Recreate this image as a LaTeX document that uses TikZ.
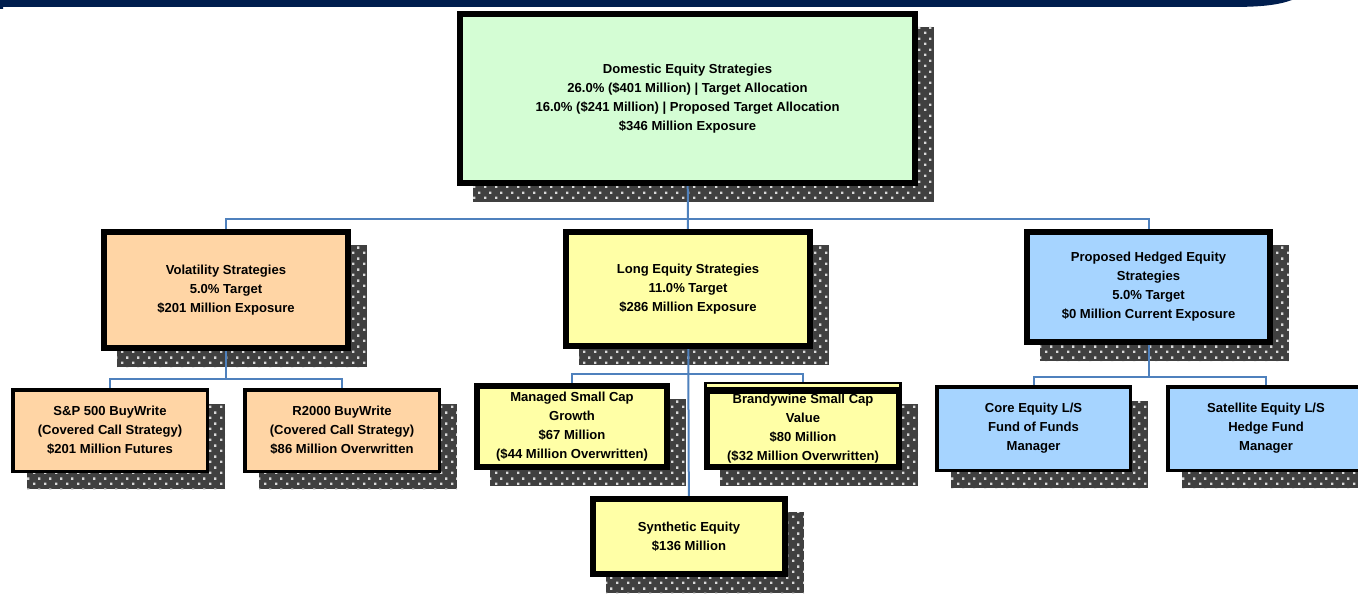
\documentclass[tikz,border=0pt]{standalone}
\usepackage{fontspec}
\setmainfont{Liberation Sans}
\usetikzlibrary{patterns.meta}
\definecolor{navy}{HTML}{001E4E}
\definecolor{gfill}{HTML}{D4FDD4}
\definecolor{ofill}{HTML}{FFD5A5}
\definecolor{yfill}{HTML}{FFFFA6}
\definecolor{bfill}{HTML}{A6D4FF}
\definecolor{connblue}{HTML}{4F81BD}
\definecolor{shgray}{HTML}{404040}
\definecolor{dotgray}{HTML}{D9D9D9}
\tikzdeclarepattern{
  name=shdots,
  type=colored,
  bottom left={(0pt,0pt)},
  top right={(8.25pt,8.25pt)},
  tile size={(8.25pt,8.25pt)},
  code={\fill[dotgray] (0pt,0pt) rectangle (2pt,2pt);
        \fill[dotgray] (4.1pt,4.1pt) rectangle (6.1pt,6.1pt);}
}
\pgfdeclarelayer{shadow}
\pgfdeclarelayer{conn}
\pgfsetlayers{shadow,conn,main}
\tikzset{
  ebox/.style={draw=black, align=center, inner sep=0pt,
    font=\bfseries\fontsize{9.8}{14.2}\selectfont},
  conn/.style={draw=connblue, line width=1.5pt},
}
% name, x1, y1, x2, y2, border px, fill, text
\newcommand\ebx[8]{%
  \node[ebox, fill=#7, line width={#6*0.75pt},
        minimum width={(#4-#2-#6)*0.75pt},
        minimum height={(#5-#3-#6)*0.75pt}]
        (#1) at ({(#2+#4)/2},{(#3+#5)/2}) {#8};
  \begin{pgfonlayer}{shadow}
    \fill[shgray] ({#2+16},{#3+16}) rectangle ({#4+16},{#5+16});
    \fill[pattern=shdots] ({#2+16},{#3+16}) rectangle ({#4+16},{#5+16});
  \end{pgfonlayer}
}
\begin{document}
\begin{tikzpicture}[x=0.75pt, y=-0.75pt]
\useasboundingbox (0,0) rectangle (1358,595);
\begin{pgfonlayer}{shadow}
  \fill[white] (0,0) rectangle (1358,595);
\end{pgfonlayer}
% top band
\fill[navy] (0,0) -- (1292,0) .. controls (1278,5) and (1262,7) .. (1230,7) -- (3,7) -- (3,9) -- (0,9) -- cycle;

% boxes
\ebx{top}{457}{11}{918}{186}{6}{gfill}{Domestic Equity Strategies\\26.0\% (\$401 Million) | Target Allocation\\16.0\% (\$241 Million) | Proposed Target Allocation\\\$346 Million Exposure}
\ebx{vol}{101}{229}{351}{351}{6}{ofill}{Volatility Strategies\\5.0\% Target\\\$201 Million Exposure}
\ebx{long}{563}{229}{813}{349}{6}{yfill}{Long Equity Strategies\\11.0\% Target\\\$286 Million Exposure}
\ebx{hedge}{1024}{229}{1273}{345}{6}{bfill}{Proposed Hedged Equity\\Strategies\\5.0\% Target\\\$0 Million Current Exposure}
\ebx{sp}{11}{388}{209}{473}{3.5}{ofill}{S\&P 500 BuyWrite\\(Covered Call Strategy)\\\$201 Million Futures}
\ebx{rtk}{243}{388}{441}{473}{3.5}{ofill}{R2000 BuyWrite\\(Covered Call Strategy)\\\$86 Million Overwritten}
\ebx{mng}{474}{383}{670}{470}{6}{yfill}{Managed Small Cap\\Growth\\\$67 Million\\(\$44 Million Overwritten)}
\ebx{brw}{704}{388}{902}{470}{6}{yfill}{Brandywine Small Cap\\Value\\\$80 Million\\(\$32 Million Overwritten)}
\ebx{syn}{590}{496}{788}{577}{6}{yfill}{Synthetic Equity\\\$136 Million}
\ebx{core}{935}{385}{1132}{472}{3.5}{bfill}{Core Equity L/S\\Fund of Funds\\Manager}
\ebx{sat}{1166}{385}{1366}{472}{3.5}{bfill}{Satellite Equity L/S\\Hedge Fund\\Manager}
% Brandywine double top edge
\fill[black] (704,382) rectangle (902,388);
\fill[yfill] (707,384.3) rectangle (899,387.2);

% connectors
\coordinate (j1) at (688,219);
\coordinate (j2) at (226,379);
\coordinate (j3) at (688,374);
\coordinate (j4) at (1148.5,377);
\coordinate (satin) at (1266,420);
\begin{pgfonlayer}{conn}
  \draw[conn] (top.center) -- (long.center);
  \draw[conn] (vol.center) |- (j1) -| (hedge.center);
  \draw[conn] (vol.center) -- (j2);
  \draw[conn] (sp.center) |- (j2) -| (rtk.center);
  \draw[conn] (long.center) -- (syn.center);
  \draw[conn] (mng.center) |- (j3) -| (brw.center);
  \draw[conn] (hedge.center) -- (j4);
  \draw[conn] (core.center) |- (j4) -| (satin);
\end{pgfonlayer}
\end{tikzpicture}
\end{document}
